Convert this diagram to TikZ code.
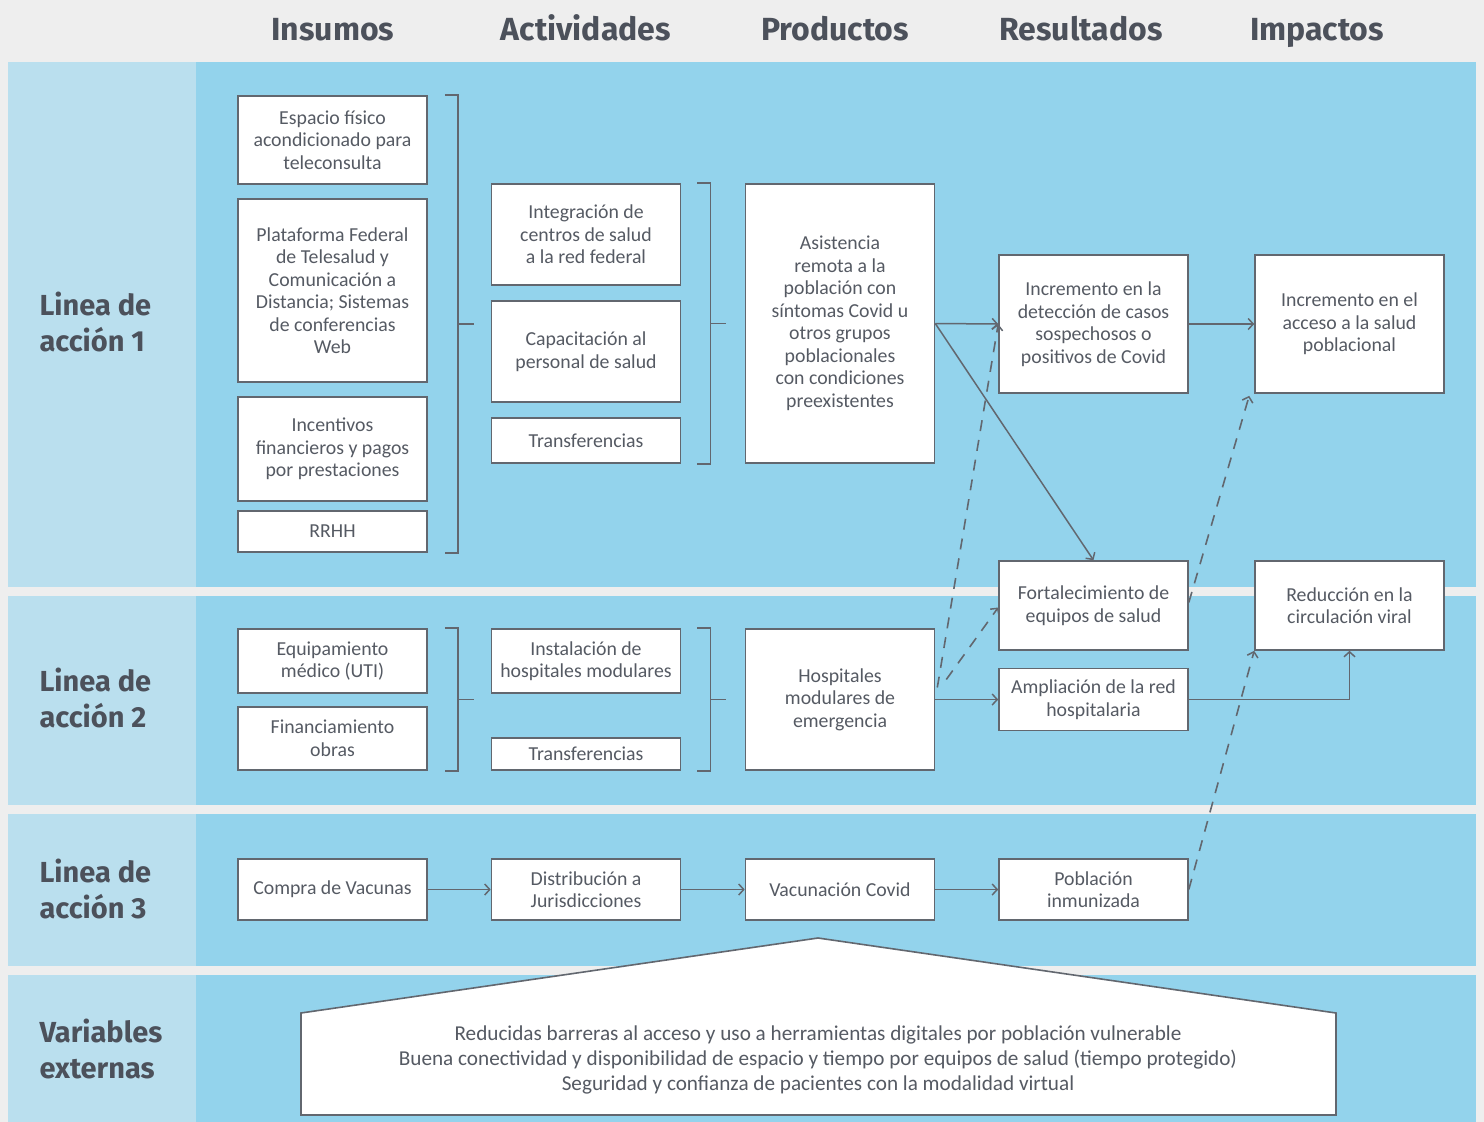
\documentclass[tikz,border=0pt]{standalone}
\usepackage{fontspec}
\setmainfont{Carlito}
\newfontfamily\hdfont{Fira Sans}
\usetikzlibrary{arrows.meta,calc}
\definecolor{bgray}{HTML}{EEEEEE}
\definecolor{lblue}{HTML}{BADFEE}
\definecolor{mblue}{HTML}{93D3EC}
\definecolor{ink}{HTML}{4C515B}
\definecolor{edgegray}{HTML}{62676F}
\definecolor{txt}{HTML}{555A63}
\begin{document}
\begin{tikzpicture}[x=1pt,y=-1pt,
  box/.style={draw=edgegray, line width=1.6pt, fill=white, align=center,
    text=txt, inner sep=2pt, font=\fontsize{19.8}{22.5}\selectfont,
    minimum width=189pt},
  hd/.style={text=ink, anchor=base, font=\hdfont\bfseries\fontsize{32}{36}\selectfont},
  rowlab/.style={text=ink, anchor=west, align=left,
    font=\hdfont\bfseries\fontsize{29}{36}\selectfont},
  arr/.style={draw=edgegray, line width=1.5pt,
    -{Straight Barb[length=5pt,width=11pt,line width=1.5pt]}},
  dasharr/.style={arr, line width=1.6pt, dash pattern=on 11pt off 9pt},
  brk/.style={draw=edgegray, line width=1.5pt}
]
\useasboundingbox (0,0) rectangle (1484,1122);
\fill[bgray] (0,0) rectangle (1484,1122);

% bands: label column and working area
\foreach \ya/\yb in {62/587, 596/805, 814/966, 975/1122}{
  \fill[lblue] (8,\ya) rectangle (196,\yb);
  \fill[mblue] (196,\ya) rectangle (1476,\yb);
}

% column headings
\node[hd] (hIns) at (333,40) {Insumos};
\node[hd] (hAct) at (586,40) {Actividades};
\node[hd] (hPro) at (835,40) {Productos};
\node[hd] (hRes) at (1081,40) {Resultados};
\node[hd] (hImp) at (1317,40) {Impactos};

% row labels
\node[rowlab] (l1) at (36,322) {Linea de\\acción 1};
\node[rowlab] (l2) at (36,698) {Linea de\\acción 2};
\node[rowlab] (l3) at (36,889) {Linea de\\acción 3};
\node[rowlab] (l4) at (36,1049) {Variables\\externas};

% line of action 1
\node[box, minimum height=88pt] (esp) at (332.5,140) {Espacio físico\\acondicionado para\\teleconsulta};
\node[box, minimum height=183pt] (plat) at (332.5,290.5) {Plataforma Federal\\de Telesalud y\\Comunicación a\\Distancia; Sistemas\\de conferencias\\Web};
\node[box, minimum height=104pt] (incent) at (332.5,449) {Incentivos\\financieros y pagos\\por prestaciones};
\node[box, minimum height=41pt] (rrhh) at (332.5,531.5) {RRHH};

\node[box, minimum height=101pt] (integ) at (586,234.5) {Integración de\\centros de salud\\a la red federal};
\node[box, minimum height=101pt] (capac) at (586,351.5) {Capacitación al\\personal de salud};
\node[box, minimum height=45pt] (transfA) at (586,440.5) {Transferencias};

\node[box, minimum height=279pt] (asis) at (840,323.5) {Asistencia\\remota a la\\población con\\síntomas Covid u\\otros grupos\\poblacionales\\con condiciones\\preexistentes};

\node[box, minimum height=138pt] (incdet) at (1093.5,324) {Incremento en la\\detección de casos\\sospechosos o\\positivos de Covid};
\node[box, minimum height=138pt] (incacc) at (1349.5,324) {Incremento en el\\acceso a la salud\\poblacional};
\node[box, minimum height=89pt] (fort) at (1093.5,605.5) {Fortalecimiento de\\equipos de salud};
\node[box, minimum height=89pt] (reduc) at (1349.5,605.5) {Reducción en la\\circulación viral};

% line of action 2
\node[box, minimum height=64pt] (equip) at (332.5,661) {Equipamiento\\médico (UTI)};
\node[box, minimum height=63pt] (financ) at (332.5,738.5) {Financiamiento\\obras};
\node[box, minimum height=64pt] (instal) at (586,661) {Instalación de\\hospitales modulares};
\node[box, minimum height=32pt] (transfB) at (586,754) {Transferencias};
\node[box, minimum height=141pt] (hosp) at (840,699.5) {Hospitales\\modulares de\\emergencia};
\node[box, minimum height=62pt] (ampl) at (1093.5,699.5) {Ampliación de la red\\hospitalaria};

% line of action 3
\node[box, minimum height=61pt] (compra) at (332.5,889.5) {Compra de Vacunas};
\node[box, minimum height=61pt] (distr) at (586,889.5) {Distribución a\\Jurisdicciones};
\node[box, minimum height=61pt] (vacun) at (840,889.5) {Vacunación Covid};
\node[box, minimum height=61pt] (pobl) at (1093.5,889.5) {Población\\inmunizada};

% brackets grouping inputs and activities
\draw[brk] ($(esp.north east)+(17,0)$) -- ($(esp.north east)+(30,0)$) coordinate (bA1)
  -- ($(rrhh.south east)+(30,0)$) -- ($(rrhh.south east)+(17,0)$);
\draw[brk] ($(bA1)!0.5!($(rrhh.south east)+(30,0)$)$) -- ++(16,0);
\draw[brk] ($(integ.north east)+(16,0)$) -- ($(integ.north east)+(29,0)$) coordinate (bB1)
  -- ($(transfA.south east)+(29,0)$) -- ($(transfA.south east)+(16,0)$);
\draw[brk] ($(bB1)!0.5!($(transfA.south east)+(29,0)$)$) -- ++(16,0);
\draw[brk] ($(equip.north east)+(17,0)$) -- ($(equip.north east)+(30,0)$) coordinate (bC1)
  -- ($(financ.south east)+(30,0)$) -- ($(financ.south east)+(17,0)$);
\draw[brk] ($(bC1)!0.5!($(financ.south east)+(30,0)$)$) -- ++(16,0);
\draw[brk] ($(instal.north east)+(16,0)$) -- ($(instal.north east)+(29,0)$) coordinate (bD1)
  -- ($(transfB.south east)+(29,0)$) -- ($(transfB.south east)+(16,0)$);
\draw[brk] ($(bD1)!0.5!($(transfB.south east)+(29,0)$)$) -- ++(16,0);

% causal links
\draw[arr] (asis.east) -- (incdet.west);
\draw[arr] (asis.east) -- (fort.north);
\draw[arr] (incdet.east) -- (incacc.west);
\draw[arr] (hosp.east) -- (ampl.west);
\draw[arr] (ampl.east) -| (reduc.south);
\draw[arr] (compra) -- (distr);
\draw[arr] (distr) -- (vacun);
\draw[arr] (vacun) -- (pobl);

% contributing links
\coordinate (hA) at ($(hosp.east)+(2,-12)$);
\coordinate (hB) at ($(hosp.east)+(11,-20)$);
\draw[dasharr] (hA) -- (incdet.west);
\draw[dasharr] (hB) -- ($(fort.west)+(0,2)$);
\draw[dasharr] ($(fort.east)+(0,-3)$) -- ($(incacc.south west)+(-5,2)$);
\draw[dasharr] (pobl.east) -- (reduc.south west);

% external conditions
\draw[draw=edgegray, line width=1.6pt, fill=white]
  (301,1115) -- (301,1013) -- (818,938) -- (1336,1013) -- (1336,1115) -- cycle;
\node[text=txt, align=center, font=\fontsize{21.2}{25}\selectfont] (ext) at (818,1060)
  {Reducidas barreras al acceso y uso a herramientas digitales por población vulnerable\\
   Buena conectividad y disponibilidad de espacio y tiempo por equipos de salud (tiempo protegido)\\
   Seguridad y confianza de pacientes con la modalidad virtual};
\end{tikzpicture}
\end{document}
